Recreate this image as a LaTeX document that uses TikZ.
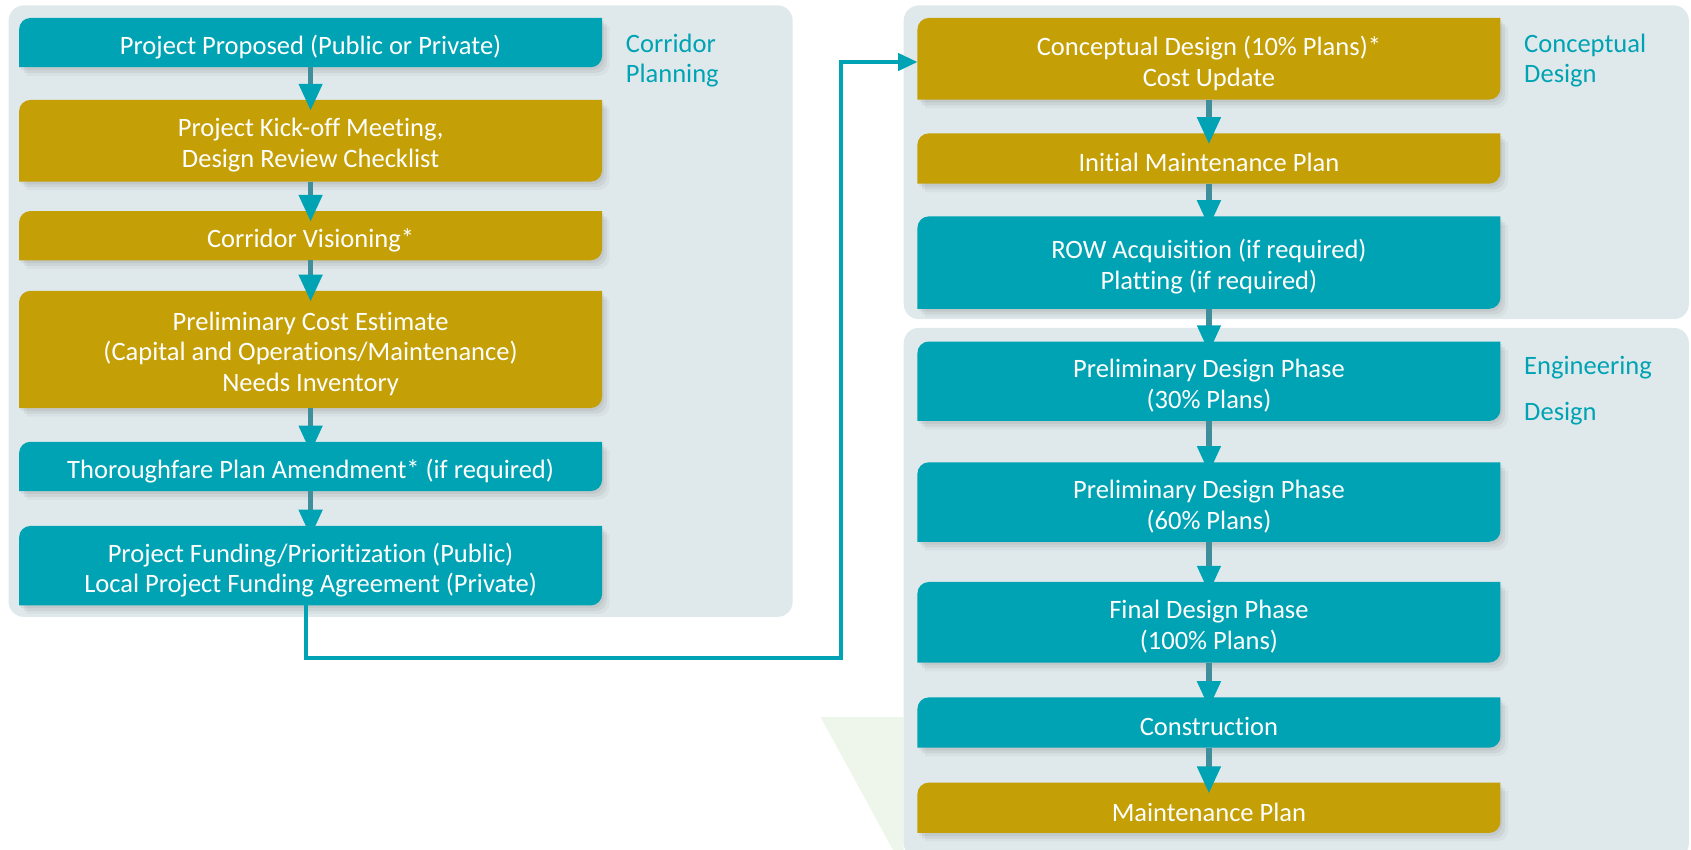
\documentclass[tikz,border=0pt]{standalone}
\usepackage{fontspec}
\setmainfont{Carlito}[Ligatures=NoCommon]
\usetikzlibrary{arrows.meta,shadows}

\definecolor{tealbox}{HTML}{00A3B3}
\definecolor{goldbox}{HTML}{C49F06}
\definecolor{panelbg}{HTML}{DFE9EC}
\definecolor{shaftcol}{HTML}{3F8E9C}
\definecolor{greenbg}{HTML}{EEF5EA}

\pgfdeclarelayer{panel}
\pgfdeclarelayer{fills}
\pgfsetlayers{panel,fills,main}

\begin{document}
\begin{tikzpicture}[x=0.02cm, y=0.02cm,
    box/.style = {minimum width=10.8cm,
        inner sep=0pt,
        text=white,
        align=center,
        font=\fontsize{14}{16.2}\selectfont},
    phase/.style = {anchor=north west,
        inner sep=0pt,
        text=tealbox,
        align=left,
        font=\fontsize{14}{16.2}\selectfont},
    flow/.style = {shaftcol, line width=3pt, shorten >=-.2cm,
        -{Triangle[width=.42cm,length=.5cm,color=tealbox]}},
    link/.style = {tealbox, line width=2pt,
        -{Triangle[width=.32cm,length=.36cm]}},
    soft/.style = {drop shadow={opacity=.12, shadow xshift=1pt, shadow yshift=-1.5pt},
        drop shadow={opacity=.12, shadow xshift=2.5pt, shadow yshift=-3pt},
        drop shadow={opacity=.08, shadow xshift=4pt, shadow yshift=-4.5pt}}]

\useasboundingbox (0,0) rectangle (1568,-788);

% Corridor planning (text sits 4 units below the box centre)
\node[box, minimum height=0.9cm] (p1) at (288,-43.5) {Project Proposed (Public or Private)};
\node[box, minimum height=1.5cm] (p2) at (288,-134.5) {Project Kick-off Meeting,\\Design Review Checklist};
\node[box, minimum height=0.9cm] (p3) at (288,-222.5) {Corridor Visioning*};
\node[box, minimum height=2.16cm] (p4) at (288,-328) {Preliminary Cost Estimate\\(Capital and Operations/Maintenance)\\Needs Inventory};
\node[box, minimum height=0.9cm] (p5) at (288,-436.5) {Thoroughfare Plan Amendment* (if required)};
\node[box, minimum height=1.46cm] (p6) at (288,-528.5) {Project Funding/Prioritization (Public)\\Local Project Funding Agreement (Private)};
\node[phase] (cpl) at (580,-31) {Corridor\\Planning};

% Conceptual design
\node[box, minimum height=1.5cm] (c1) at (1121,-58.5) {Conceptual Design (10\% Plans)*\\Cost Update};
\node[box, minimum height=0.92cm] (c2) at (1121,-151) {Initial Maintenance Plan};
\node[box, minimum height=1.7cm] (c3) at (1121,-247.5) {ROW Acquisition (if required)\\Platting (if required)};
\node[phase] (cdl) at (1413,-31) {Conceptual\\Design};

% Engineering design
\node[box, minimum height=1.46cm] (e1) at (1121,-357.5) {Preliminary Design Phase\\(30\% Plans)};
\node[box, minimum height=1.46cm] (e2) at (1121,-469.5) {Preliminary Design Phase\\(60\% Plans)};
\node[box, minimum height=1.48cm] (e3) at (1121,-581) {Final Design Phase\\(100\% Plans)};
\node[box, minimum height=0.92cm] (e4) at (1121,-674) {Construction};
\node[box, minimum height=0.92cm] (e5) at (1121,-753) {Maintenance Plan};
\node[phase] (edl) at (1413,-330) {Engineering\\[8pt]Design};

% Panels
\begin{pgfonlayer}{panel}
\fill[greenbg] (761,-665) -- (838,-665) -- (838,-788) -- (828,-788) -- cycle;
\fill[panelbg, rounded corners=8pt] (8,-5) rectangle (735,-572);
\fill[panelbg, rounded corners=8pt] (838,-5) rectangle (1566,-296);
\fill[panelbg, rounded corners=8pt] (838,-304) rectangle (1566,-796);
\end{pgfonlayer}

% Box fills, raised back to the box position
\begin{pgfonlayer}{fills}
\foreach \n/\c in {p1/tealbox, p2/goldbox, p3/goldbox, p4/goldbox, p5/tealbox, p6/tealbox,
    c1/goldbox, c2/goldbox, c3/tealbox,
    e1/tealbox, e2/tealbox, e3/tealbox, e4/tealbox, e5/goldbox}
  \fill[\c, soft] ([yshift=.08cm]\n.south west) -- ([yshift=.08cm-6pt]\n.north west)
    arc[start angle=180, end angle=90, radius=6pt] -- ([yshift=.08cm]\n.north east)
    -- ([yshift=.08cm+6pt]\n.south east) arc[start angle=0, end angle=-90, radius=6pt] -- cycle;
\end{pgfonlayer}

% Arrows
\foreach \a/\b in {p1/p2, p2/p3, p3/p4, p4/p5, p5/p6,
    c1/c2, c2/c3, c3/e1, e1/e2, e2/e3, e3/e4, e4/e5}
  \draw[flow] ([yshift=.08cm]\a.south) -- ([yshift=.08cm]\b.north);

\coordinate (turn) at (780,-610);
\draw[link] ([shift={(-.08cm,.08cm)}]p6.south) |- (turn) |- ([yshift=.02cm]c1.west);
\end{tikzpicture}
\end{document}
